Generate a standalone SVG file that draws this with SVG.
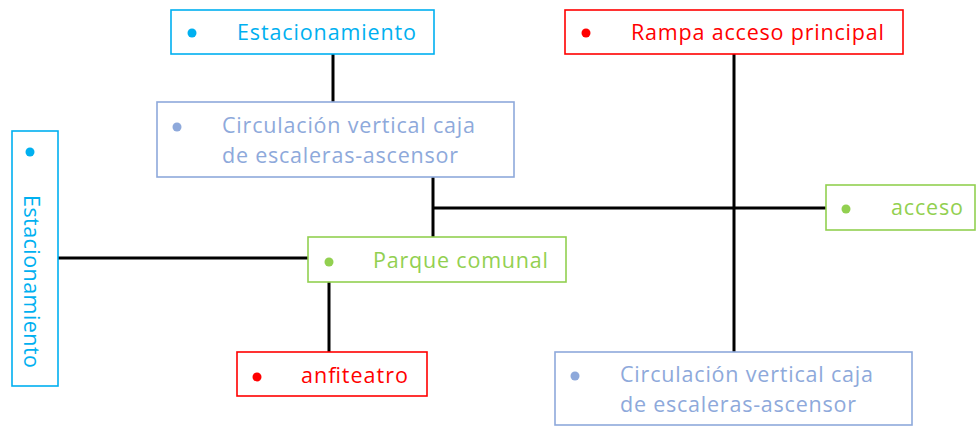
<svg xmlns="http://www.w3.org/2000/svg" width="976" height="427" viewBox="0 0 976 427">
<style>
.box{fill:#fff;stroke-width:1.6}
.c{stroke:#00B0F0}.r{stroke:#FF0000}.g{stroke:#92D050}.b{stroke:#8EA9DB}
.tc{fill:#00B0F0}.tr{fill:#FF0000}.tg{fill:#92D050}.tb{fill:#8EA9DB}
text{font-family:"Open Sans","Noto Sans",sans-serif;font-size:21.5px}
#connectors line{stroke:#000;stroke-width:3}
</style>
<rect width="976" height="427" fill="#fff"/>
<g id="connectors">
<line x1="333" y1="54" x2="333" y2="102"/>
<line x1="734" y1="54" x2="734" y2="352"/>
<line x1="433" y1="177" x2="433" y2="237"/>
<line x1="433" y1="208" x2="826" y2="208"/>
<line x1="58" y1="258" x2="308" y2="258"/>
<line x1="329" y1="282" x2="329" y2="352"/>
</g>
<g id="estacionamiento-top">
<rect class="box c" x="171" y="10" width="263" height="44"/>
<circle class="tc" cx="192" cy="33" r="4.5"/>
<text class="tc" x="237" y="40" textLength="179">Estacionamiento</text>
</g>
<g id="rampa">
<rect class="box r" x="565" y="10" width="338" height="44"/>
<circle class="tr" cx="586" cy="33" r="4.5"/>
<text class="tr" x="631" y="40" textLength="253">Rampa acceso principal</text>
</g>
<g id="circulacion-top">
<rect class="box b" x="157" y="102" width="357" height="75"/>
<circle class="tb" cx="177" cy="127" r="4.5"/>
<text class="tb" x="222" y="133" textLength="253">Circulación vertical caja</text>
<text class="tb" x="222" y="163" textLength="236">de escaleras-ascensor</text>
</g>
<g id="acceso">
<rect class="box g" x="826" y="185" width="149" height="45"/>
<circle class="tg" cx="846" cy="209" r="4.5"/>
<text class="tg" x="891" y="215" textLength="72">acceso</text>
</g>
<g id="estacionamiento-left">
<rect class="box c" x="12" y="131" width="46" height="255"/>
<circle class="tc" cx="30" cy="152" r="4.5"/>
<text class="tc" transform="translate(24 195) rotate(90)" x="0" y="0" textLength="173">Estacionamiento</text>
</g>
<g id="parque">
<rect class="box g" x="308" y="237" width="258" height="45"/>
<circle class="tg" cx="329" cy="262" r="4.5"/>
<text class="tg" x="373" y="268" textLength="175">Parque comunal</text>
</g>
<g id="anfiteatro">
<rect class="box r" x="237" y="352" width="190" height="44"/>
<circle class="tr" cx="257" cy="377" r="4.5"/>
<text class="tr" x="301" y="383" textLength="107">anfiteatro</text>
</g>
<g id="circulacion-bottom">
<rect class="box b" x="555" y="352" width="357" height="73"/>
<circle class="tb" cx="575" cy="376" r="4.5"/>
<text class="tb" x="620" y="382" textLength="253">Circulación vertical caja</text>
<text class="tb" x="620" y="412" textLength="236">de escaleras-ascensor</text>
</g>
</svg>
